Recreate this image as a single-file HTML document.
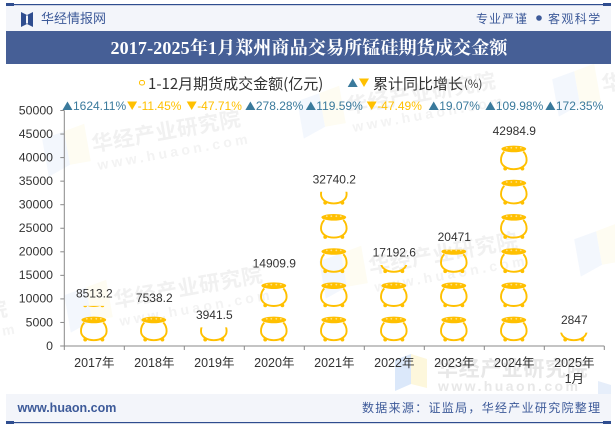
<!DOCTYPE html>
<html lang="zh">
<head>
<meta charset="utf-8">
<title>2017-2025年1月郑州商品交易所锰硅期货成交金额</title>
<style>
html,body{margin:0;padding:0;background:#fff;}
#stage{position:relative;width:615px;height:427px;overflow:hidden;background:#fff;}
svg{position:absolute;left:0;top:0;}
text{font-family:"Liberation Sans","Noto Sans CJK SC",sans-serif;}
.wm-cn{font-size:21px;font-weight:700;fill:#f1f1f1;letter-spacing:0.6px;}
.wm-en{font-size:14px;font-weight:700;fill:#f3f3f3;}
.legend-text{font-family:"WenQuanYi Zen Hei","Noto Sans CJK SC",sans-serif;}
</style>
</head>
<body>
<div id="stage">
<svg id="chart" width="615" height="427" viewBox="0 0 615 427">
  <g>
    <g transform="translate(45,155) rotate(-10)">
      <polygon points="0,-16 23,-20 23,14 0,22" fill="#f3f7fd"/><polygon points="23,-20 44,-24 44,14 23,14" fill="#fefcf2"/>
      <text class="wm-cn" x="48" y="5">华经产业研究院</text><text class="wm-en" x="50" y="24" textLength="152">www.huaon.com</text>
    </g>
    <g transform="translate(67,311) rotate(-10)">
      <polygon points="0,-16 23,-20 23,14 0,22" fill="#f3f7fd"/><polygon points="23,-20 44,-24 44,14 23,14" fill="#fefcf2"/>
      <text class="wm-cn" x="48" y="5">华经产业研究院</text><text class="wm-en" x="50" y="24" textLength="152">www.huaon.com</text>
    </g>
    <g transform="translate(300,117) rotate(-10)">
      <polygon points="0,-16 23,-20 23,14 0,22" fill="#f3f7fd"/><polygon points="23,-20 44,-24 44,14 23,14" fill="#fefcf2"/>
      <text class="wm-cn" x="48" y="5">华经产业研究院</text><text class="wm-en" x="50" y="24" textLength="152">www.huaon.com</text>
    </g>
    <g transform="translate(322,277) rotate(-10)">
      <polygon points="0,-16 23,-20 23,14 0,22" fill="#f3f7fd"/><polygon points="23,-20 44,-24 44,14 23,14" fill="#fefcf2"/>
      <text class="wm-cn" x="48" y="5">华经产业研究院</text><text class="wm-en" x="50" y="24" textLength="152">www.huaon.com</text>
    </g>
    <g transform="translate(555,95) rotate(-10)">
      <polygon points="0,-16 23,-20 23,14 0,22" fill="#f3f7fd"/><polygon points="23,-20 44,-24 44,14 23,14" fill="#fefcf2"/>
      <text class="wm-cn" x="48" y="5">华经产业研究院</text>
    </g>
    <g transform="translate(577,255) rotate(-10)">
      <polygon points="0,-16 23,-20 23,14 0,22" fill="#f3f7fd"/><polygon points="23,-20 44,-24 44,14 23,14" fill="#fefcf2"/>
    </g>
    <g transform="translate(-188,345) rotate(-10)">
      <text class="wm-cn" x="48" y="5">华经产业研究院</text><text class="wm-en" x="50" y="24" textLength="152">www.huaon.com</text>
    </g>
  </g>
  <g>
    <polygon points="395,360 411,354 411,384 395,391" fill="#dbe8fa"/>
    <polygon points="411,354 427,359 427,388 411,384" fill="#fdf7dc"/>
    <text x="437" y="376" font-size="21" font-weight="700" fill="#e8e8e8" letter-spacing="0.6">华经产业研究院</text>
    <text x="438" y="391" font-size="14" font-weight="700" fill="#e8e8e8" textLength="140">www.huaon.com</text>
    <polygon points="598,381 611,385 611,394 598,394" fill="#e6eefa"/>
  </g>

  <rect x="6" y="5" width="605" height="26" fill="#f3f5fa"/>
  <rect x="6" y="394" width="605" height="28" fill="#f3f5fa"/>
  <rect x="6" y="4" width="605" height="1.2" fill="#2f4d8f"/>
  <rect x="6" y="3" width="8" height="3" fill="#2f4d8f"/>
  <rect x="603" y="3" width="8" height="3" fill="#2f4d8f"/>
  <g>
    <polygon points="21,12 27,15 27,24 21,27" fill="#2f4d8f"/>
    <polygon points="33,12 27,15 27,24 33,27" fill="#2f4d8f"/>
    <polygon points="26,15.5 28,15.5 28,23.5 26,23.5" fill="#f3f5fa"/>
  </g>
  <text x="41" y="23" font-size="13" fill="#3d5a99">华经情报网</text>
  <text x="476" y="23" font-size="12" letter-spacing="1" fill="#3d5a99">专业严谨</text>
  <circle cx="539" cy="18" r="2.8" fill="#3d5a99"/>
  <text x="548" y="23" font-size="12" letter-spacing="1.4" fill="#3d5a99">客观科学</text>

  <rect x="6" y="31" width="605" height="33" fill="#465f96"/>
  <text x="309" y="54" text-anchor="middle" font-size="18" font-weight="700" letter-spacing="0.15" fill="#fff" style='font-family:"Liberation Serif","Noto Serif CJK SC",serif'>2017-2025年1月郑州商品交易所锰硅期货成交金额</text>

  <g>
    <rect x="139.5" y="80.5" width="5" height="4.5" rx="2" fill="none" stroke="#ffc000" stroke-width="1"/>
    <text class="legend-text" x="148" y="89" font-size="15" fill="#333">1-12月期货成交金额(亿元)</text>
  </g>
  <g>
    <polygon points="352.7,78.5 357.7,87 347.7,87" fill="#3a7a9c"/>
    <polygon points="359,78.5 369,78.5 364,87" fill="#ffc000"/>
    <text class="legend-text" x="373" y="89" font-size="15" fill="#333">累计同比增长</text>
    <text class="legend-text" x="464" y="88" font-size="11.5" fill="#333">(%)</text>
  </g>

  <g id="plot"></g>

  <text x="17.5" y="412" font-size="12.5" font-weight="700" fill="#3d5a99">www.huaon.com</text>
  <text x="362" y="412" font-size="12" letter-spacing="1.3" fill="#3d5a99">数据来源：证监局，华经产业研究院整理</text>
  <rect x="6" y="422" width="605" height="1.2" fill="#2f4d8f"/>
  <rect x="6" y="421" width="8" height="3" fill="#2f4d8f"/>
  <rect x="603" y="421" width="8" height="3" fill="#2f4d8f"/>
</svg>
</div>
<script>
const categories = ["2017年","2018年","2019年","2020年","2021年","2022年","2023年","2024年","2025年\n1月"];
const amountValues = [8513.2,7538.2,3941.5,14909.9,32740.2,17192.6,20471,42984.9,2847];
const growthValues = [1624.11,-11.45,-47.71,278.28,119.59,-47.49,19.07,109.98,172.35];
const yTicks = [0,5000,10000,15000,20000,25000,30000,35000,40000,45000,50000];

const NS = "http://www.w3.org/2000/svg";
const plot = document.getElementById("plot");
const axisLeft = 64.3, bandWidth = 60, axisBase = 346, pxPerUnit = 235.5 / 50000;
const potPitch = 34.2, potHeight = 25, potBaseGap = 4.4;
const UP = "#3a7a9c", DOWN = "#ffc000";

function xBand(i){ return axisLeft + i * bandWidth + bandWidth / 2; }
function yScale(v){ return axisBase - v * pxPerUnit; }
function mk(tag, attrs, parent){
  const el = document.createElementNS(NS, tag);
  for (const k in attrs) el.setAttribute(k, attrs[k]);
  (parent || plot).appendChild(el);
  return el;
}

const yAxis = mk("line", {x1:axisLeft,x2:axisLeft,y1:yScale(50000),y2:axisBase,stroke:"#888","stroke-width":1});


const xAxis = mk("line", {x1:axisLeft-4,x2:axisLeft+bandWidth*categories.length,y1:axisBase,y2:axisBase,stroke:"#888","stroke-width":1});



yTicks.forEach(function(t){
  const y = yScale(t);
  const tick = mk("line", {x1:axisLeft-4,x2:axisLeft,y1:y,y2:y,stroke:"#888","stroke-width":1});
  
  
  const lab = mk("text", {x:53,y:y+3.8,"text-anchor":"end","font-size":12.3,fill:"#333"});
  
  
  lab.textContent = t;
});

for (let i = 0; i <= categories.length; i++){
  const x = axisLeft + i * bandWidth;
  const tick = mk("line", {x1:x,x2:x,y1:axisBase,y2:axisBase+4,stroke:"#888","stroke-width":1});
  
  
}

categories.forEach(function(c, i){
  c.split("\n").forEach(function(line, j){
    const lab = mk("text", {x:xBand(i),y:367+j*16,"text-anchor":"middle","font-size":12.5,fill:"#333"});
    
    
    lab.textContent = line;
  });
});

const defs = mk("defs", {});



function drawPot(parent, cx, top){
  const g = mk("g", {}, parent);
  
  
  const L = function(dx){ return (cx + dx) + " "; };
  const T = function(dy){ return (top + dy) + " "; };
  mk("path", {d:"M"+L(-9.5)+T(6)+"C"+L(-12)+T(8.5)+L(-12.8)+T(11.5)+L(-12.8)+T(14.5)+"C"+L(-12.8)+T(20)+L(-7)+T(23.6)+L(0)+T(23.6)+"C"+L(7)+T(23.6)+L(12.8)+T(20)+L(12.8)+T(14.5)+"C"+L(12.8)+T(11.5)+L(12)+T(8.5)+L(9.5)+T(6),fill:"none",stroke:"#ffc000","stroke-width":1.9}, g);
  mk("circle", {cx:cx-8.6,cy:top+23,r:1.9,fill:"#ffc000"}, g);
  mk("circle", {cx:cx+8.6,cy:top+23,r:1.9,fill:"#ffc000"}, g);
  mk("ellipse", {cx:cx,cy:top+3.3,rx:12.4,ry:3.3,fill:"#ffc000"}, g);
  [-7,-2.5,2.5,7].forEach(function(d){
    mk("circle", {cx:cx+d,cy:top+2.2,r:0.9,fill:"#ffe08a"}, g);
  });
}

amountValues.forEach(function(v, i){
  const cx = xBand(i) - 0.5, yTop = yScale(v);
  const clip = mk("clipPath", {id:"bar-clip-"+i}, defs);
  
  
  mk("rect", {x:cx-20,y:yTop,width:40,height:axisBase-yTop}, clip);
  const bar = mk("g", {"clip-path":"url(#bar-clip-"+i+")"});
  
  
  for (let n = 0; ; n++){
    const potTop = axisBase - potBaseGap - potHeight - n * potPitch;
    if (potTop + potHeight < yTop) break;
    drawPot(bar, cx, potTop);
  }
  const lab = mk("text", {x:xBand(i),y:yTop-8.5,"text-anchor":"middle","font-size":12,fill:"#333"});
  
  
  lab.textContent = v;
});

growthValues.forEach(function(v, i){
  const up = v >= 0, col = up ? UP : DOWN;
  const g = mk("g", {});
  
  
  const t = mk("text", {y:110,"font-size":12,fill:col}, g);
  t.textContent = v + "%";
  const w = t.getComputedTextLength();
  const triW = 10, gap = 0.5;
  const left = xBand(i) - (w + triW + gap) / 2;
  t.setAttribute("x", left + triW + gap);
  const a = left, b = left + triW, m = left + triW / 2;
  const pts = up ? (m+",101.5 "+b+",110 "+a+",110") : (a+",101.5 "+b+",101.5 "+m+",110");
  const tri = mk("polygon", {points:pts,fill:col}, g);
  
  
});
</script>
</body>
</html>
